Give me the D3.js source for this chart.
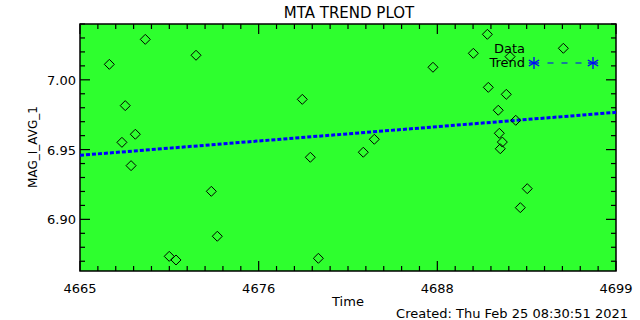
<!DOCTYPE html>
<html>
<head>
<meta charset="utf-8">
<script src="https://cdn.jsdelivr.net/npm/d3@7"></script>
<style>
  body { margin: 0; background: #fff; }
  text { font-family: "DejaVu Sans", sans-serif; fill: #000; }
</style>
</head>
<body>
<div id="chart"></div>
<script>
// data
var times = [4666.86, 4669.14, 4672.36, 4667.87, 4668.51, 4667.66, 4668.24, 4673.33, 4673.71, 4670.66,
             4671.09, 4687.39, 4679.10, 4683.67, 4682.97, 4679.61, 4680.12, 4690.84, 4689.95, 4695.66,
             4692.28, 4690.90, 4692.04, 4691.53, 4692.64, 4691.60, 4691.79, 4691.66, 4693.37, 4692.93];
var mags = [7.0111, 7.0290, 7.0176, 6.9815, 6.9610, 6.9552, 6.9385, 6.9201, 6.8879, 6.8735,
            6.8709, 7.0090, 6.9860, 6.9574, 6.9481, 6.9445, 6.8721, 7.0326, 7.0190, 7.0226,
            7.0166, 6.9946, 6.9896, 6.9782, 6.9710, 6.9617, 6.9554, 6.9506, 6.9220, 6.9084];
var trendT = [4665, 4699];
var trendV = [6.9459, 6.9767];
var xTickVals = [4665, 4665 + 34/3, 4665 + 68/3, 4699];
var xTickLabels = ["4665", "4676", "4688", "4699"];
var yTickVals = [6.90, 6.95, 7.00];
var yTickLabels = ["6.90", "6.95", "7.00"];

var W = 640, H = 320;
//plot box (pL etc, "top" is taken by window)
var pL = 80, pR = 616, pT = 24, pB = 271;

var svg = d3.select("#chart").append("svg")
    .attr("width", W).attr("height", H);

svg.append("rect").attr("width", W).attr("height", H).attr("fill", "#fff");

var x = d3.scaleLinear().domain([4665, 4699]).range([pL, pR]);
var y = d3.scaleLinear().domain([6.863, 7.040]).range([pB, pT]);

//plot area
svg.append("rect")
    .attr("x", pL).attr("y", pT)
    .attr("width", pR - pL).attr("height", pB - pT)
    .attr("fill", "#2eff2e");

//minor tick values
var xMinor = d3.range(0, 31).map(function(i){ return 4665 + i * 34 / 30; });
var yMinor = d3.range(0, 18).map(function(i){ return 6.87 + i * 0.01; });

var g = svg.append("g");
//x ticks bottom/top
xMinor.forEach(function(v, i){
  var len = (i % 10 == 0) ? 10 : 5;
  g.append("line").attr("x1", x(v)).attr("x2", x(v)).attr("y1", pB).attr("y2", pB - len);
  g.append("line").attr("x1", x(v)).attr("x2", x(v)).attr("y1", pT).attr("y2", pT + len);
});
yMinor.forEach(function(v){
  var major = yTickVals.some(function(t){ return Math.abs(t - v) < 1e-6; });
  var len = major ? 10 : 5;
  g.append("line").attr("x1", pL).attr("x2", pL + len).attr("y1", y(v)).attr("y2", y(v));
  g.append("line").attr("x1", pR).attr("x2", pR - len).attr("y1", y(v)).attr("y2", y(v));
});
g.selectAll("line").attr("stroke", "#000").attr("stroke-width", 1.2);

svg.append("rect")
    .attr("x", pL).attr("y", pT)
    .attr("width", pR - pL).attr("height", pB - pT)
    .attr("fill", "none").attr("stroke", "#000").attr("stroke-width", 1.5);

//tick labels
svg.selectAll("text.xl").data(xTickVals).enter().append("text")
    .attr("class", "xl")
    .attr("x", function(d){ return x(d); })
    .attr("y", 293)
    .attr("text-anchor", "middle")
    .attr("font-size", 13)
    .text(function(d, i){ return xTickLabels[i]; });

svg.selectAll("text.yl").data(yTickVals).enter().append("text")
    .attr("class", "yl")
    .attr("x", 76)
    .attr("y", function(d){ return y(d) + 5; })
    .attr("text-anchor", "end")
    .attr("font-size", 13)
    .text(function(d, i){ return yTickLabels[i]; });

//titles
svg.append("text").attr("x", 349).attr("y", 18).attr("text-anchor", "middle")
    .attr("font-size", 15).text("MTA TREND PLOT");
svg.append("text").attr("x", 348).attr("y", 306).attr("text-anchor", "middle")
    .attr("font-size", 13).text("Time");
svg.append("text").attr("x", 628).attr("y", 318).attr("text-anchor", "end")
    .attr("font-size", 13).text("Created: Thu Feb 25 08:30:51 2021");
svg.append("text")
    .attr("transform", "translate(37,147) rotate(-90)")
    .attr("text-anchor", "middle")
    .attr("font-size", 12).text("MAG_I_AVG_1");

//trend line
var line = d3.line()
    .x(function(d){ return x(d[0]); })
    .y(function(d){ return y(d[1]); });
svg.append("path")
    .attr("d", line(d3.zip(trendT, trendV)))
    .attr("fill", "none")
    .attr("stroke", "#0000ff")
    .attr("stroke-width", 3)
    .attr("stroke-dasharray", "4,2");

//data diamonds
svg.selectAll("path.pt").data(d3.zip(times, mags)).enter().append("path")
    .attr("class", "pt")
    .attr("transform", function(d){ return "translate(" + x(d[0]) + "," + y(d[1]) + ")"; })
    .attr("d", "M0,-5L5,0L0,5L-5,0Z")
    .attr("fill", "none")
    .attr("stroke", "#000")
    .attr("stroke-width", 1);

//legend
svg.append("text").attr("x", 525).attr("y", 53).attr("text-anchor", "end")
    .attr("font-size", 13).text("Data");
svg.append("text").attr("x", 525).attr("y", 67).attr("text-anchor", "end")
    .attr("font-size", 13).text("Trend");
svg.append("line").attr("x1", 547.5).attr("x2", 581.5).attr("y1", 63).attr("y2", 63)
    .attr("stroke", "#0000ff").attr("stroke-width", 1.2).attr("stroke-dasharray", "6,8");
function star(cx, cy){
  var s = svg.append("g").attr("transform", "translate(" + cx + "," + cy + ")");
  [0, 60, 120].forEach(function(a){
    var r = 6, rad = a * Math.PI / 180;
    s.append("line")
      .attr("x1", -r * Math.sin(rad)).attr("y1", -r * Math.cos(rad))
      .attr("x2", r * Math.sin(rad)).attr("y2", r * Math.cos(rad))
      .attr("stroke", "#0000ff").attr("stroke-width", 1.3);
  });
  s.append("line").attr("x1", -5).attr("x2", 5).attr("y1", 0).attr("y2", 0)
      .attr("stroke", "#0000ff").attr("stroke-width", 1.3);
}
star(534, 63);
star(593, 63);
</script>
</body>
</html>
